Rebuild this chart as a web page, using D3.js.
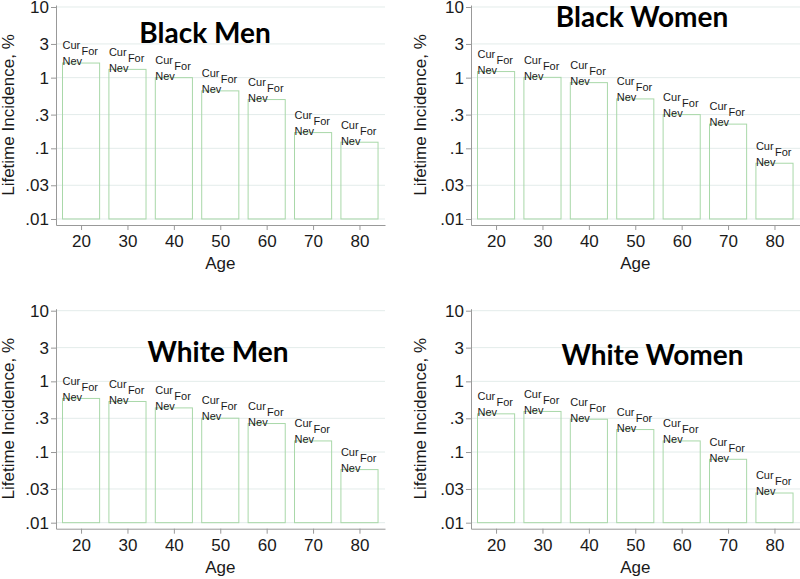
<!DOCTYPE html>
<html><head><meta charset="utf-8">
<script src="https://cdn.jsdelivr.net/npm/d3@7"></script>
<style>
html,body{margin:0;padding:0;background:#fff;}
svg{display:block;font-family:"Liberation Sans",Arial,sans-serif;}
</style></head>
<body><svg id="c" width="800" height="579"></svg>
<script>
// ---- data ----
const ages = [20, 30, 40, 50, 60, 70, 80];
const blackMen   = [1.61, 1.31, 1.00, 0.65, 0.49, 0.167, 0.122];
const blackWomen = [1.22, 1.01, 0.85, 0.50, 0.30, 0.22, 0.0615];
const whiteMen   = [0.573, 0.519, 0.421, 0.301, 0.253, 0.1435, 0.0564];
const whiteWomen = [0.347, 0.375, 0.291, 0.208, 0.1435, 0.0789, 0.0263];
const yTickValues = [0.01, 0.03, 0.1, 0.3, 1, 3, 10];
const yTickLabels = [".01", ".03", ".1", ".3", "1", "3", "10"];
const titles = ["Black Men", "Black Women", "White Men", "White Women"];
const yTitle = "Lifetime Incidence, %";
const xTitle = "Age";
const markLabels = ["Cur", "For", "Nev"];

// ---- layout ----
const panels = [
  {title: titles[0], values: blackMen,   dx: 0,   dy: 0,     tx: 205,   ty: 43,  yt: 14},
  {title: titles[1], values: blackWomen, dx: 415, dy: 0,     tx: 227,   ty: 27,  yt: 11},
  {title: titles[2], values: whiteMen,   dx: 0,   dy: 303.7, tx: 218,   ty: 58,  yt: 14},
  {title: titles[3], values: whiteWomen, dx: 415, dy: 303.7, tx: 237.5, ty: 61.3, yt: 11}
];
const FONT = "'Liberation Sans', Arial, sans-serif";
const gridColor = "#e3ecea";
const barColor = "#a9d8a9";
const axisColor = "#999999";
const textColor = "#1a1a1a";

const svg = d3.select("#c");
const x = d3.scaleLinear().domain([14.6, 85.5]).range([56, 385]);
const y = d3.scaleLog().domain([0.00822, 10.67]).range([225, 5]);

panels.forEach(p => {
  const g = svg.append("g").attr("transform", `translate(${p.dx},${p.dy})`);

  // gridlines
  g.append("g").selectAll("line").data(yTickValues).join("line")
    .attr("x1", x.range()[0] + 1).attr("x2", x.range()[1])
    .attr("y1", d => y(d)).attr("y2", d => y(d))
    .attr("stroke", gridColor).attr("stroke-width", 1);

  // bars
  const data = ages.map((a, i) => ({age: a, v: p.values[i]}));
  g.append("g").selectAll("rect").data(data).join("rect")
    .attr("x", d => x(d.age - 4)).attr("width", d => x(d.age + 4) - x(d.age - 4))
    .attr("y", d => y(d.v)).attr("height", d => y(0.01) - y(d.v))
    .attr("fill", "none").attr("stroke", barColor).attr("stroke-width", 1);

  // marker labels
  const lab = g.append("g").attr("font-size", 11).attr("font-family", FONT).attr("fill", textColor);
  data.forEach(d => {
    const x0 = x(d.age - 4), yt = y(d.v);
    lab.append("text").attr("x", x0).attr("y", yt - 13.7).text(markLabels[0]);
    lab.append("text").attr("x", x0 + 19).attr("y", yt - 7.7).text(markLabels[1]);
    lab.append("text").attr("x", x0).attr("y", yt + 2.3).text(markLabels[2]);
  });

  // y axis
  const ya = g.append("g").attr("transform", `translate(${x.range()[0]},0)`)
    .call(d3.axisLeft(y).tickValues(yTickValues).tickFormat((d, i) => yTickLabels[i])
      .tickSize(5).tickSizeOuter(0).tickPadding(2));
  ya.attr("font-family", FONT).attr("font-size", 17);
  ya.selectAll("text").attr("fill", textColor);

  // x axis
  const xa = g.append("g").attr("transform", `translate(0,${y.range()[0]})`)
    .call(d3.axisBottom(x).tickValues(ages).tickFormat(d3.format("d"))
      .tickSize(5).tickSizeOuter(0).tickPadding(5));
  xa.attr("font-family", FONT).attr("font-size", 17);
  xa.selectAll("text").attr("fill", textColor);

  [ya, xa].forEach(a => {
    a.select(".domain").attr("stroke", axisColor);
    a.selectAll(".tick line").attr("stroke", axisColor);
  });

  // axis titles
  g.append("text").attr("transform", `translate(${p.yt},115) rotate(-90)`)
    .attr("text-anchor", "middle").attr("font-family", FONT).attr("font-size", 17)
    .attr("fill", textColor).text(yTitle);
  g.append("text").attr("x", x(50)).attr("y", 269)
    .attr("text-anchor", "middle").attr("font-family", FONT).attr("font-size", 17)
    .attr("fill", textColor).text(xTitle);

  // panel title
  g.append("text").attr("x", p.tx).attr("y", p.ty).attr("text-anchor", "middle")
    .attr("font-family", "Lato, 'Open Sans', sans-serif").attr("font-weight", "bold")
    .attr("font-size", 28).attr("fill", "#000").text(p.title);
});
</script></body></html>
